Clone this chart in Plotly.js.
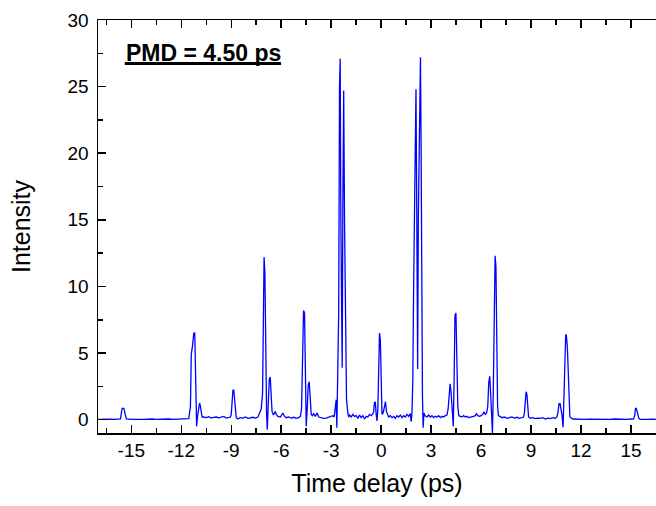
<!DOCTYPE html>
<html>
<head>
<meta charset="utf-8">
<script src="https://cdn.plot.ly/plotly-3.0.1.min.js"></script>
<style>html,body{margin:0;padding:0;background:#fff;}#chart{width:656px;height:506px;}</style>
</head>
<body>
<div id="chart"></div>
<script>
// Time delay (ps)
const timeDelay = [
-17.0,-16.75,-16.5,-16.25,-16.0,-15.8,-15.65,
-15.6,-15.55,-15.45,-15.4,-15.35,-15.3,
-15.0,-14.75,-14.5,-14.25,-14.0,-13.75,-13.5,-13.25,-13.0,-12.75,-12.5,-12.25,-12.0,-11.75,-11.55,
-11.45,-11.4,-11.33,-11.25,-11.19,-11.15,-11.12,-11.08,-11.02,-10.96,-10.9,-10.85,-10.8,-10.75,
-10.65,-10.5,-10.35,-10.2,-10.05,-9.9,-9.75,-9.6,-9.45,-9.3,-9.15,-9.05,
-9.0,-8.95,-8.9,-8.85,-8.8,-8.75,-8.7,
-8.6,-8.45,-8.3,-8.15,-8.0,-7.85,-7.7,-7.55,-7.4,-7.3,
-7.2,-7.12,-7.08,-7.03,-6.98,-6.93,-6.88,-6.84,-6.79,-6.72,-6.66,-6.6,-6.55,-6.47,-6.4,-6.35,-6.3,-6.2,
-6.05,-5.95,-5.9,-5.83,-5.7,-5.55,-5.4,-5.25,-5.1,-4.95,
-4.85,-4.78,-4.72,-4.66,-4.6,-4.55,-4.5,-4.44,-4.38,-4.32,-4.26,-4.2,-4.12,
-4.05,-3.95,-3.85,-3.75,-3.6,-3.45,-3.3,-3.15,-3.0,-2.9,-2.82,
-2.76,-2.7,-2.66,-2.62,-2.55,-2.5,-2.46,-2.42,-2.37,-2.34,-2.3,-2.25,-2.2,-2.14,-2.08,-2.0,-1.95,
-1.9,-1.8,-1.7,-1.6,-1.5,-1.4,-1.3,-1.2,-1.1,-1.0,-0.9,-0.8,-0.7,-0.6,-0.5,
-0.45,-0.4,-0.35,-0.3,-0.25,-0.2,-0.15,-0.1,-0.05,0.0,0.05,0.12,0.2,0.26,0.32,0.4,
0.45,0.55,0.65,0.75,0.85,0.95,1.05,1.15,1.25,1.35,1.45,1.55,1.65,1.75,1.8,
1.85,1.9,1.95,2.03,2.09,2.14,2.19,2.23,2.3,2.36,2.4,2.44,2.48,2.52,2.57,2.63,
2.75,2.85,2.95,3.05,3.15,3.25,3.35,3.45,3.55,3.65,3.75,3.85,3.95,
4.02,4.08,4.14,4.2,4.26,4.33,4.38,4.43,4.49,4.55,4.6,4.66,4.75,
4.85,4.95,5.05,5.15,5.25,5.35,5.45,5.55,5.65,5.72,5.8,5.9,6.0,6.1,6.18,6.25,6.33,
6.4,6.46,6.52,6.57,6.62,6.68,6.73,6.78,6.84,6.89,6.94,6.99,7.04,7.12,
7.25,7.4,7.55,7.7,7.85,8.0,8.15,8.3,8.45,8.55,
8.6,8.65,8.7,8.75,8.8,8.85,
8.95,9.1,9.25,9.4,9.55,9.7,9.85,10.0,10.15,10.3,10.45,10.55,
10.62,10.68,10.74,10.8,10.86,10.92,10.98,11.03,11.08,11.12,11.18,11.23,11.27,11.33,
11.5,11.75,12.0,12.25,12.5,12.75,13.0,13.25,13.5,13.75,14.0,14.25,14.5,14.75,15.0,15.15,
15.22,15.27,15.32,15.37,15.42,15.47,15.55,
15.75,16.0,16.25,16.5
];
// Intensity (a.u.)
const intensity = [
0.03,0.05,0.02,0.04,0.03,0.05,0.06,
0.5,0.85,0.85,0.55,0.1,0.05,
0.02,0.05,0.03,0.02,0.04,0.05,0.02,0.04,0.03,0.05,0.03,0.04,0.06,0.05,0.08,
1.0,4.9,5.5,6.5,6.5,4.0,1.5,-0.5,0.3,1.0,1.25,1.0,0.3,0.2,
0.2,0.15,0.22,0.12,0.18,0.2,0.14,0.17,0.25,0.12,0.15,0.2,
0.4,1.5,2.2,2.25,1.6,0.5,0.15,
0.05,0.15,0.12,0.2,0.1,0.15,0.18,0.12,0.2,0.5,
0.8,2.0,9.0,12.2,11.0,3.0,0.5,-0.75,1.5,3.0,3.2,2.0,0.6,0.35,0.5,0.62,0.4,0.25,
0.2,0.35,0.5,0.3,0.15,0.2,0.12,0.18,0.1,0.15,
0.25,0.8,5.0,8.2,8.0,2.0,-0.5,0.8,2.6,2.85,1.5,0.4,0.3,
0.45,0.25,0.5,0.2,0.15,0.1,0.12,0.2,0.25,0.3,0.2,
0.9,1.5,-0.6,1.6,8.0,25.0,27.1,15.0,6.0,3.9,16.0,24.7,15.0,5.0,1.5,0.5,0.2,
0.35,0.2,0.4,0.25,0.3,0.1,0.35,0.15,0.3,0.05,0.25,0.2,0.4,0.3,0.45,
0.6,1.3,1.3,0.4,-0.1,0.8,4.5,6.5,6.0,2.0,0.4,0.5,1.2,1.35,0.6,0.25,
0.2,0.3,0.15,0.25,0.1,0.3,0.2,0.35,0.15,0.3,0.2,0.4,0.25,0.45,-0.15,
0.5,3.0,10.0,20.0,24.8,15.0,3.8,15.0,25.0,27.2,20.0,8.0,1.7,-0.6,0.5,0.3,
0.2,0.35,0.2,0.3,0.15,0.25,0.2,0.3,0.15,0.25,0.2,0.3,0.35,
0.8,2.0,2.7,2.0,0.5,-0.5,3.0,7.8,8.0,5.0,1.0,0.3,0.25,
0.2,0.3,0.2,0.25,0.15,0.2,0.2,0.25,0.3,0.45,0.3,0.25,0.3,0.4,0.6,0.4,0.5,
1.0,2.8,3.25,2.0,0.5,-1.0,2.0,9.0,12.3,11.5,5.0,1.0,0.3,0.25,
0.15,0.2,0.1,0.15,0.2,0.12,0.18,0.1,0.15,0.2,
0.5,1.6,2.1,1.9,0.8,0.2,
0.1,0.15,0.08,0.12,0.1,0.15,0.05,0.12,0.08,0.15,0.1,0.2,
0.6,1.2,1.2,0.8,0.3,-0.57,3.6,4.2,6.4,6.3,5.4,3.0,1.0,0.2,
0.05,0.03,0.05,0.02,0.04,0.03,0.05,0.02,0.04,0.03,0.05,0.03,0.04,0.02,0.05,0.04,
0.3,0.85,0.85,0.5,0.45,0.1,0.03,
0.05,0.03,0.04,0.02
];
const xTickVals = [-15,-12,-9,-6,-3,0,3,6,9,12,15];
const xTickText = ['-15','-12','-9','-6','-3','0','3','6','9','12','15'];
const yTickVals = [0,5,10,15,20,25,30];
const yTickText = ['0','5','10','15','20','25','30'];
const annotationText = "PMD = 4.50 ps";

const FONT = "Arial, 'Liberation Sans', sans-serif";

const trace = {
  x: timeDelay, y: intensity, type: 'scatter', mode: 'lines',
  line: {color: '#0000ff', width: 1.3},
  hoverinfo: 'skip'
};

const layout = {
  width: 656, height: 506,
  margin: {l: 98, r: 0, t: 20, b: 73},
  paper_bgcolor: '#ffffff', plot_bgcolor: '#ffffff',
  showlegend: false,
  font: {family: FONT, color: '#000'},
  xaxis: {
    range: [-17, 16.5],
    tickvals: xTickVals, ticktext: xTickText,
    ticks: 'inside', ticklen: 8, tickwidth: 1.5, tickcolor: '#000',
    minor: {ticks: 'inside', dtick: 1.5, tick0: 0, ticklen: 5, tickwidth: 1.5, tickcolor: '#000'},
    showline: true, linecolor: '#000', linewidth: 1.5, mirror: 'ticks',
    showgrid: false, zeroline: false,
    tickfont: {size: 19, family: FONT, color: '#000'},
    title: {text: 'Time delay (ps)', font: {size: 25, family: FONT, color: '#000'}, standoff: 14}
  },
  yaxis: {
    range: [-1, 30],
    tickvals: yTickVals, ticktext: yTickText,
    ticks: 'inside', ticklen: 8, tickwidth: 1.5, tickcolor: '#000',
    minor: {ticks: 'inside', dtick: 2.5, tick0: 0, ticklen: 5, tickwidth: 1.5, tickcolor: '#000'},
    showline: true, linecolor: '#000', linewidth: 1.5, mirror: false,
    showgrid: false, zeroline: false,
    ticklabelstandoff: 4,
    tickfont: {size: 19, family: FONT, color: '#000'},
    title: {text: 'Intensity', font: {size: 25, family: FONT, color: '#000'}, standoff: 30}
  },
  annotations: [{
    xref: 'paper', yref: 'paper', x: 0.046, y: 0.92, xanchor: 'left', yanchor: 'middle',
    text: '<b>' + annotationText + '</b>', showarrow: false,
    font: {size: 23, family: FONT, color: '#000'}
  }],
  shapes: [{
    type: 'line', xref: 'paper', yref: 'paper',
    x0: 0.048, x1: 0.328, y0: 0.8947, y1: 0.8947,
    line: {color: '#000', width: 3}
  }]
};

Plotly.newPlot('chart', [trace], layout, {staticPlot: true, displayModeBar: false});
</script>
</body>
</html>
